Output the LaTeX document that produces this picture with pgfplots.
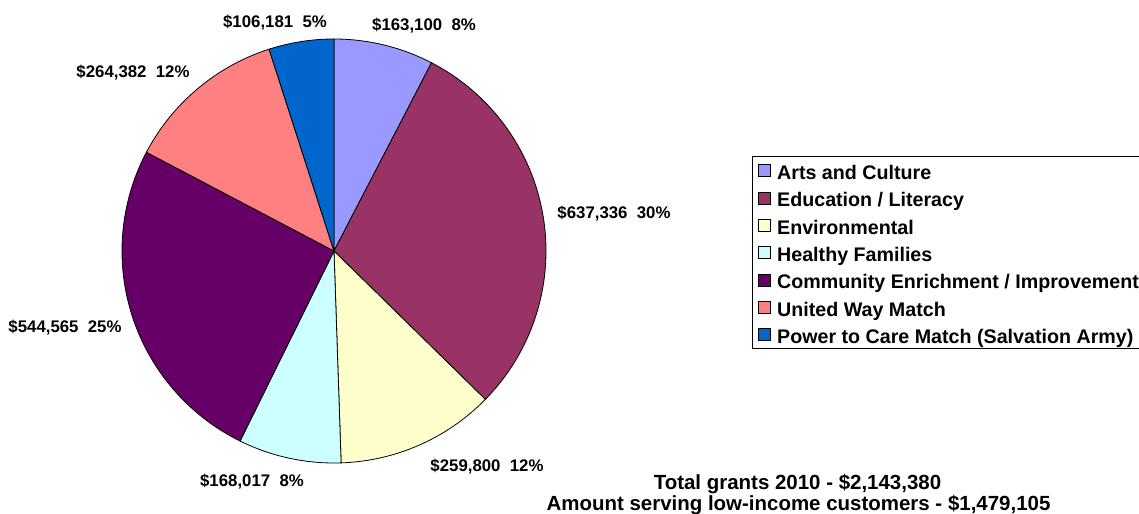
\documentclass[border=0pt]{standalone}
\usepackage{fontspec}
\setmainfont{Liberation Sans}
\usepackage{pgfplots}
\usepackage{pgfplotstable}
\pgfplotsset{compat=1.18}
\definecolor{c0}{HTML}{9999FF}
\definecolor{c1}{HTML}{993366}
\definecolor{c2}{HTML}{FFFFCC}
\definecolor{c3}{HTML}{CCFFFF}
\definecolor{c4}{HTML}{660066}
\definecolor{c5}{HTML}{FF8080}
\definecolor{c6}{HTML}{0066CC}

% value, label centre (pixel coordinates, y measured from top)
\pgfplotstableread{
value lx ly
163100 424 25
637336 614 213
259800 487 466
168017 252 481
544565 65 327
264382 133 72
106181 275 22
}\grants

\begin{document}
\begin{tikzpicture}
\begin{axis}[
  hide axis, scale only axis,
  width=854.25pt, height=385.5pt,
  xmin=0, xmax=1139, ymin=0, ymax=514,
  clip=false,
  legend cell align=left,
  legend image code/.code={\filldraw[#1, draw=black, line width=0.5pt] (0pt,-4.5pt) rectangle (9pt,4.5pt);},
  legend style={at={(axis cs:752,358)}, anchor=north west, draw=black, line width=0.75pt, fill=white,
    font=\fontsize{14.75}{17}\selectfont\bfseries,
    inner xsep=4pt, inner ysep=3pt, row sep=5.45pt,
    nodes={inner sep=0pt, text height=14.3pt, text depth=0.75pt},
    /tikz/every odd column/.style={column sep=5pt}},
]
\addlegendimage{fill=c0}
\addlegendimage{fill=c1}
\addlegendimage{fill=c2}
\addlegendimage{fill=c3}
\addlegendimage{fill=c4}
\addlegendimage{fill=c5}
\addlegendimage{fill=c6}
\legend{Arts and Culture, Education / Literacy, Environmental, Healthy Families, Community Enrichment / Improvement, United Way Match, Power to Care Match (Salvation Army)}

\pgfplotsextra{
  \pgfplotstablegetrowsof{\grants}\pgfmathtruncatemacro\nrows{\pgfplotsretval-1}
  \xdef\total{0}
  \foreach \i in {0,...,\nrows}{\pgfplotstablegetelem{\i}{value}\of\grants \xdef\total{\fpeval{\total+\pgfplotsretval}}}
  \xdef\cum{0}
  \foreach \i in {0,...,\nrows}{
    \pgfplotstablegetelem{\i}{value}\of\grants \xdef\val{\pgfplotsretval}
    \pgfplotstablegetelem{\i}{lx}\of\grants \xdef\lx{\pgfplotsretval}
    \pgfplotstablegetelem{\i}{ly}\of\grants \xdef\ly{\pgfplotsretval}
    \xdef\a{\fpeval{90-360*\cum/\total}}
    \xdef\cum{\fpeval{\cum+\val}}
    \xdef\b{\fpeval{90-360*\cum/\total}}
    \filldraw[fill=c\i, draw=black, line width=0.6pt] (axis cs:334,263) -- ++(\a:159pt) arc[start angle=\a, end angle=\b, radius=159pt] -- cycle;
    \node[anchor=base, inner sep=0pt, font=\fontsize{12.6}{15}\selectfont\bfseries] at (axis cs:\lx,{508-\ly})
      {\$\pgfmathprintnumber[fixed, precision=0, 1000 sep={,}, assume math mode=true]{\val}\ \ \fpeval{round(100*\val/\total)}\%};
  }
}
\node[anchor=base, inner sep=0pt, font=\fontsize{15.35}{18}\selectfont\bfseries] at (axis cs:797.5,24) {Total grants 2010 - \$2,143,380};
\node[anchor=base, inner sep=0pt, font=\fontsize{15.35}{18}\selectfont\bfseries] at (axis cs:798.5,3) {Amount serving low-income customers - \$1,479,105};
\coordinate (BL) at (axis cs:0,0);
\coordinate (TR) at (axis cs:1139,514);
\end{axis}
\pgfresetboundingbox
\useasboundingbox (BL) rectangle (TR);
\end{tikzpicture}
\end{document}
